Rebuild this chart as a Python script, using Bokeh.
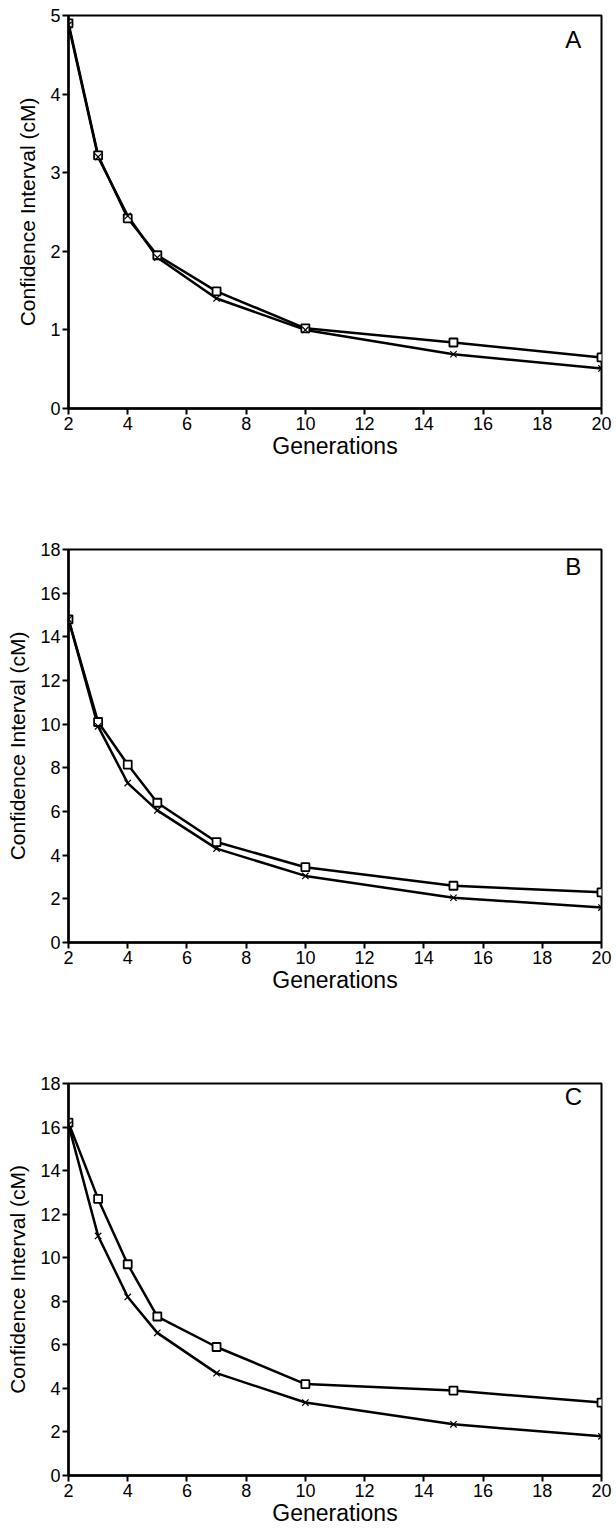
from bokeh.plotting import figure
from bokeh.layouts import column
from bokeh.models import Label, FixedTicker
from bokeh.embed import file_html
from bokeh.resources import INLINE

generations = [2, 3, 4, 5, 7, 10, 15, 20]

a_square = [4.90, 3.22, 2.42, 1.95, 1.49, 1.02, 0.84, 0.65]
a_cross = [4.88, 3.20, 2.45, 1.92, 1.40, 1.00, 0.69, 0.51]

b_square = [14.8, 10.1, 8.15, 6.4, 4.6, 3.45, 2.6, 2.3]
b_cross = [14.8, 9.9, 7.3, 6.05, 4.3, 3.05, 2.05, 1.6]

c_square = [16.2, 12.7, 9.7, 7.3, 5.9, 4.2, 3.9, 3.35]
c_cross = [16.1, 11.0, 8.2, 6.55, 4.7, 3.35, 2.35, 1.8]

x_ticks = [2, 4, 6, 8, 10, 12, 14, 16, 18, 20]
a_y_ticks = [0, 1, 2, 3, 4, 5]
bc_y_ticks = [0, 2, 4, 6, 8, 10, 12, 14, 16, 18]

FONT = "Liberation Sans"


def make_panel(sq, cr, ymax, yticks, letter, letter_y, height, border_bottom, border_right):
    p = figure(width=612, height=height, x_range=(2, 20), y_range=(0, ymax),
               output_backend="svg", toolbar_location=None,
               min_border_left=68, min_border_right=border_right,
               min_border_top=15, min_border_bottom=border_bottom)
    p.grid.visible = False
    p.outline_line_color = "black"
    p.outline_line_width = 2
    p.background_fill_color = "white"
    p.border_fill_color = "white"

    p.xaxis.ticker = FixedTicker(ticks=x_ticks)
    p.yaxis.ticker = FixedTicker(ticks=yticks)
    for ax in (p.xaxis[0], p.yaxis[0]):
        ax.axis_line_width = 2.5
        ax.axis_line_color = "black"
        ax.major_tick_line_width = 2
        ax.major_tick_line_color = "black"
        ax.major_tick_out = 6
        ax.major_tick_in = 0
        ax.minor_tick_line_color = None
        ax.major_label_text_font = FONT
        ax.major_label_text_font_size = "18px"
        ax.major_label_text_color = "black"
        ax.axis_label_text_font = FONT
        ax.axis_label_text_font_style = "normal"
        ax.axis_label_text_color = "black"
    p.xaxis.axis_label = "Generations"
    p.yaxis.axis_label = "Confidence Interval (cM)"
    p.xaxis.axis_label_text_font_size = "23px"
    p.yaxis.axis_label_text_font_size = "21px"
    p.xaxis.major_label_standoff = 2
    p.yaxis.major_label_standoff = 2
    p.xaxis.axis_label_standoff = 0
    p.yaxis.axis_label_standoff = 8

    p.line(generations, sq, line_color="black", line_width=2.5)
    p.line(generations, cr, line_color="black", line_width=2.5)
    p.scatter(generations, sq, marker="square", size=8, fill_color="white",
              line_color="black", line_width=1.8)
    p.scatter(generations, cr, marker="x", size=9, line_color="black", line_width=1.2)

    p.add_layout(Label(x=19.05, y=letter_y, text=letter, text_font=FONT,
                       text_font_size="24px", text_align="center",
                       text_baseline="middle", text_color="black"))
    return p


pa = make_panel(a_square, a_cross, 5, a_y_ticks, "A", 4.69, 534, 126, 11)
pb = make_panel(b_square, b_cross, 18, bc_y_ticks, "B", 17.2, 534, 126, 6)
pc = make_panel(c_square, c_cross, 18, bc_y_ticks, "C", 17.4, 460, 52, 5)

layout = column(pa, pb, pc, spacing=0)
open("out.html", "w").write(file_html(layout, INLINE))
